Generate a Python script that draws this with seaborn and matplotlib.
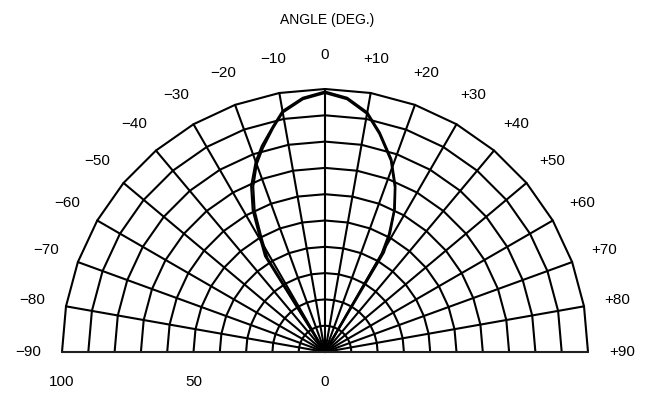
import numpy as np
import pandas as pd
import seaborn as sns
import matplotlib
import matplotlib.pyplot as plt
matplotlib.use('Agg')

sns.set_theme(style="white")
plt.rcParams['font.family'] = ['Liberation Sans', 'DejaVu Sans']

# radiation pattern (relative intensity %), two nearly identical traces
angles_a = [-90, -35, -32, -29.5, -27, -24, -20, -17, -13, -10, -5, 0, 5, 10, 14, 19, 23, 26, 28.7, 30.6, 34, 90]
rel_a = [0, 0, 43, 50.5, 60.5, 69, 77, 82, 88, 93, 97, 99, 97, 92.5, 86, 77.5, 68.5, 60.5, 51.5, 44, 0, 0]
angles_b = [-90, -35, -31.5, -29, -26.5, -23.5, -20, -17, -13, -10, -5, 0, 5, 10, 14, 19, 23, 26, 28.5, 30, 34, 90]
rel_b = [0, 0, 42, 50, 60, 68.5, 76, 81, 87.5, 92.5, 96.5, 98.5, 96.5, 92, 85.5, 77, 68, 60, 51, 43, 0, 0]

grid_angles = list(range(-90, 91, 10))
grid_rings = list(range(10, 101, 10))
angle_labels = ['\u221290', '\u221280', '\u221270', '\u221260', '\u221250', '\u221240', '\u221230', '\u221220', '\u221210',
                '0', '+10', '+20', '+30', '+40', '+50', '+60', '+70', '+80', '+90']
radius_labels = ['100', '50', '0']
radius_values = [100, 50, 0]

df = pd.DataFrame({
    'theta': np.deg2rad(angles_a + angles_b),
    'r': rel_a + rel_b,
    'trace': ['a'] * len(angles_a) + ['b'] * len(angles_b),
})

W, H = 646, 401
fig = plt.figure(figsize=(W / 100, H / 100), dpi=100)
R = 263
cx, cy = 325, H - 352
# half-disk wedge is centred in a square box of side 2R, origin sits R/2 above box bottom
ax = fig.add_axes([(cx - R) / W, (cy - R / 2) / H, 2 * R / W, 2 * R / H], projection='polar')
ax.set_theta_zero_location('N')
ax.set_theta_direction(-1)
ax.set_thetamin(-90)
ax.set_thetamax(90)
ax.set_ylim(0, 100)
ax.grid(False)
ax.set_xticks([])
ax.set_yticks([])
for s in ax.spines.values():
    s.set_visible(False)
ax.patch.set_visible(False)

th = np.deg2rad(grid_angles)
for r in grid_rings:
    ax.plot(th, [r] * len(th), color='black', lw=1.5, clip_on=False)
for t in th:
    ax.plot([t, t], [0, 100], color='black', lw=1.5, clip_on=False)

sns.lineplot(data=df, x='theta', y='r', units='trace', estimator=None, sort=False,
             color='black', lw=1.6, ax=ax, legend=False)
for line in ax.lines:
    line.set_clip_on(False)
ax.set_xlabel('')
ax.set_ylabel('')

for a, lab in zip(grid_angles, angle_labels):
    ax.text(np.deg2rad(a), 113, lab, ha='center', va='center', fontsize=11, color='black')

for v, lab in zip(radius_values, radius_labels):
    ax.annotate(lab, xy=(np.deg2rad(-90), v), xytext=(0, -30), textcoords='offset pixels',
                ha='center', va='center', fontsize=11, color='black')

fig.text(327 / W, 1 - 20 / H, 'ANGLE (DEG.)', ha='center', va='center', fontsize=10, color='black')

fig.savefig('out.png', dpi=100, facecolor='white')
